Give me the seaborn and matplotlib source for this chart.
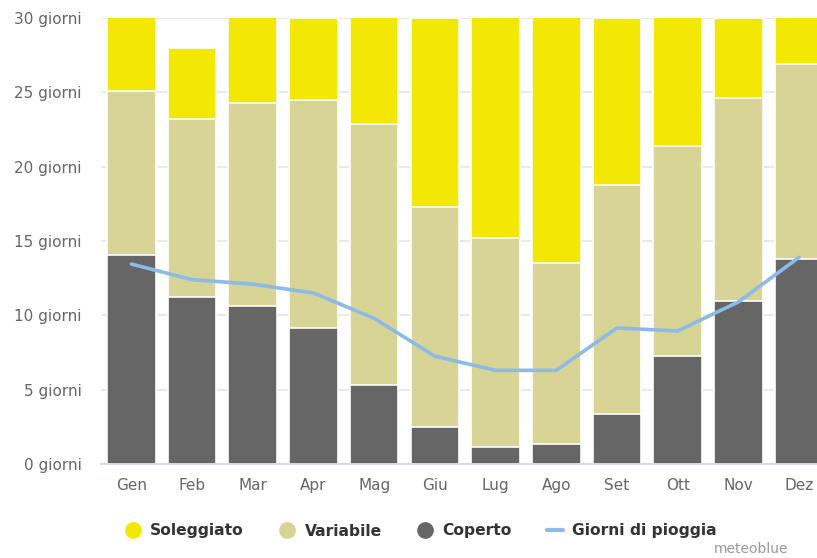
import matplotlib
matplotlib.use("Agg")
import matplotlib.pyplot as plt
from matplotlib.lines import Line2D
import seaborn as sns
import numpy as np
import pandas as pd

months = ["Gen", "Feb", "Mar", "Apr", "Mag", "Giu", "Lug", "Ago", "Set", "Ott", "Nov", "Dez"]
days_in_month = [31, 28, 31, 30, 31, 30, 31, 31, 30, 31, 30, 31]
coperto = [14.05, 11.2, 10.6, 9.15, 5.3, 2.5, 1.15, 1.35, 3.35, 7.25, 10.95, 13.8]
variabile = [11.05, 12.0, 13.7, 15.35, 17.6, 14.8, 14.05, 12.15, 15.45, 14.15, 13.65, 13.1]
pioggia = [13.45, 12.4, 12.1, 11.5, 9.8, 7.25, 6.3, 6.3, 9.15, 8.95, 10.9, 13.9]

soleggiato = [d - c - v for d, c, v in zip(days_in_month, coperto, variabile)]

df = pd.DataFrame({
    "mese": months,
    "coperto": coperto,
    "variabile": variabile,
    "soleggiato": soleggiato,
    "pioggia": pioggia,
})
df["top_var"] = df["coperto"] + df["variabile"]
df["top_sun"] = df["top_var"] + df["soleggiato"]

c_sun = "#f3e804"
c_var = "#d8d495"
c_cov = "#666666"
c_rain = "#8cbbe9"

sns.set_theme(style="white")
plt.rcParams["font.family"] = ["DejaVu Sans"]

fig = plt.figure(figsize=(8.17, 5.58), dpi=100)
ax = fig.add_axes([101 / 817, 94 / 558, 728.4 / 817, 446 / 558])

for col, color in [("top_sun", c_sun), ("top_var", c_var), ("coperto", c_cov)]:
    sns.barplot(data=df, x="mese", y=col, color=color, width=0.8, ax=ax,
                edgecolor="white", linewidth=1.2, saturation=1, zorder=2)

sns.lineplot(x=np.arange(len(months)), y=df["pioggia"], color=c_rain, linewidth=2.6,
             ax=ax, zorder=3)

ax.set_ylim(0, 30)
ax.set_xlim(-0.5, 11.5)
ax.set_yticks([0, 5, 10, 15, 20, 25, 30])
ax.set_yticklabels([f"{v} giorni" for v in [0, 5, 10, 15, 20, 25, 30]])
ax.yaxis.grid(True, color="#e6e6e6", linewidth=1.2, zorder=0)
ax.set_axisbelow(True)
ax.set_xlabel("")
ax.set_ylabel("")
for s in ["top", "right", "left"]:
    ax.spines[s].set_visible(False)
ax.spines["bottom"].set_color("#ccd6eb")
ax.spines["bottom"].set_linewidth(1.2)
ax.spines["bottom"].set_zorder(4)
ax.tick_params(axis="y", colors="#666666", labelsize=11, length=0, pad=21)
ax.tick_params(axis="x", colors="#666666", labelsize=11, length=0, pad=10)

handles = [
    Line2D([0], [0], marker="o", color="none", markerfacecolor=c_sun, markeredgecolor=c_sun, markersize=11),
    Line2D([0], [0], marker="o", color="none", markerfacecolor=c_var, markeredgecolor=c_var, markersize=11),
    Line2D([0], [0], marker="o", color="none", markerfacecolor=c_cov, markeredgecolor=c_cov, markersize=11),
    Line2D([0], [0], color=c_rain, linewidth=3),
]
labels = ["Soleggiato", "Variabile", "Coperto", "Giorni di pioggia"]
leg = fig.legend(handles, labels, loc="center", bbox_to_anchor=(421 / 817, 1 - 531 / 558),
                 ncol=4, frameon=False, handlelength=1.0, handletextpad=0.6, columnspacing=2.3,
                 prop={"weight": "bold", "size": 11.2})
for t in leg.get_texts():
    t.set_color("#333333")

fig.text(788 / 817, 1 - 549 / 558, "meteoblue", ha="right", va="center", color="#999999", fontsize=10)

fig.canvas.draw()
offset = matplotlib.transforms.ScaledTranslation(10 / 100, 0, fig.dpi_scale_trans)
for lbl in ax.get_yticklabels():
    lbl.set_transform(lbl.get_transform() + offset)

fig.savefig("out.png", dpi=100)
